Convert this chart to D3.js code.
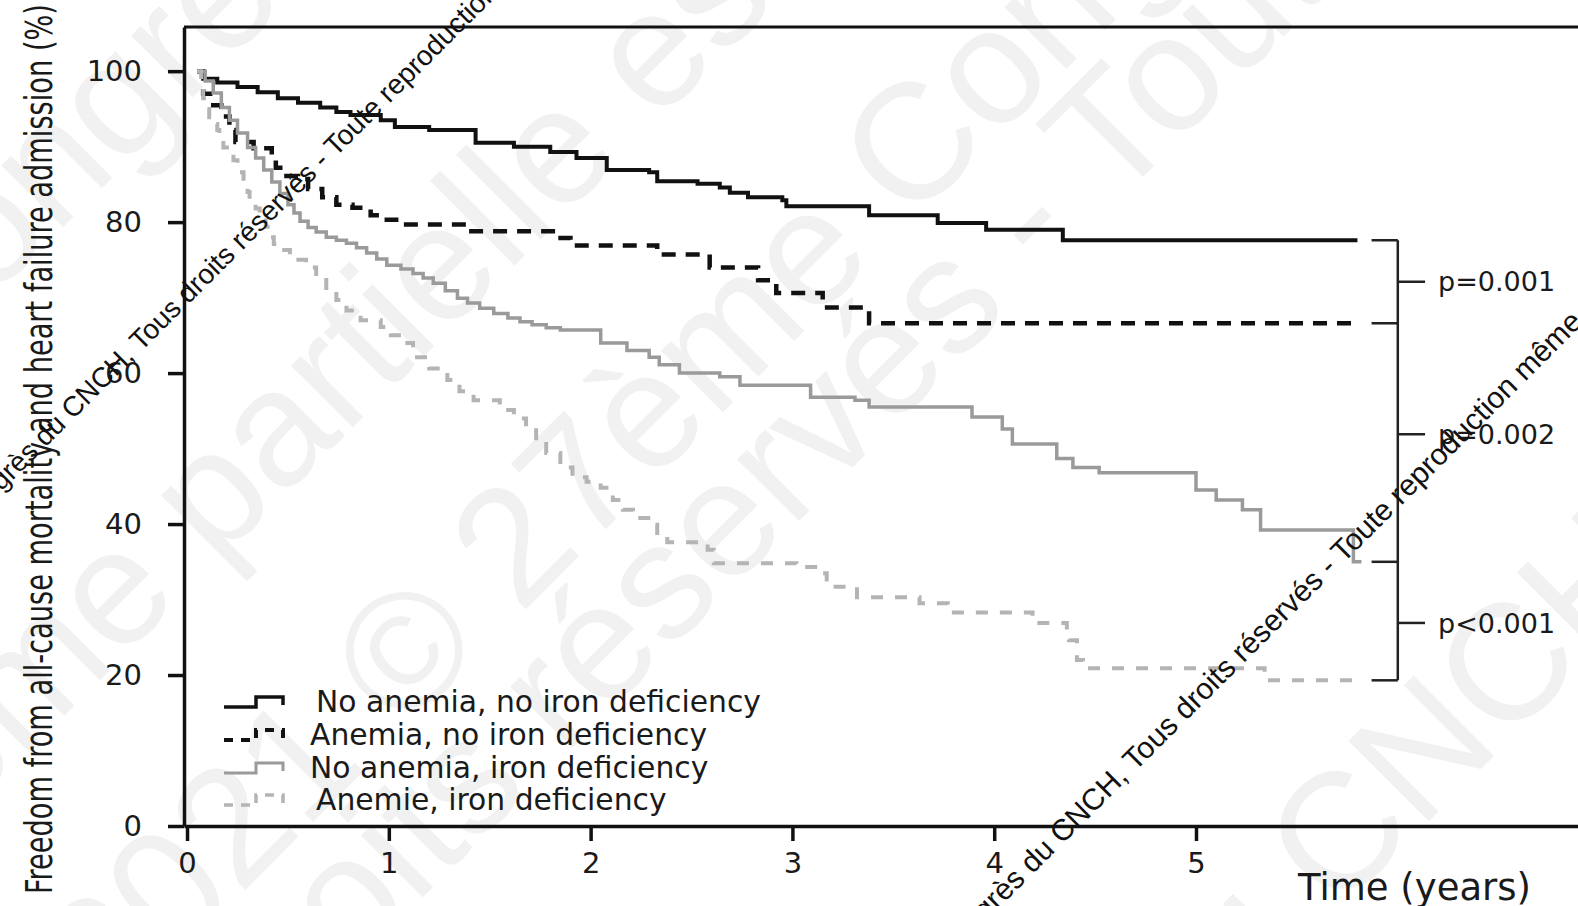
<!DOCTYPE html>
<html>
<head>
<meta charset="utf-8">
<script src="https://cdn.jsdelivr.net/npm/d3@7"></script>
<style>
  html, body { margin: 0; padding: 0; background: #fff; }
  svg { display: block; }
</style>
</head>
<body>
<svg id="chart" width="1578" height="906"></svg>
<script>
// Kaplan-Meier estimates: [time in years, freedom from event (%)]
const noAnemiaNoID = [[0.05,100],[0.08,99.0],[0.15,98.5],[0.25,97.9],[0.35,97.2],[0.45,96.4],[0.55,95.8],[0.66,95.2],[0.74,94.6],[0.81,94.2],[0.96,93.5],[1.03,92.6],[1.20,92.2],[1.43,90.5],[1.62,90.0],[1.80,89.3],[1.93,88.5],[2.08,86.9],[2.29,86.6],[2.33,85.4],[2.53,85.1],[2.64,84.6],[2.69,83.9],[2.78,83.3],[2.95,82.9],[2.97,82.1],[3.38,80.9],[3.72,79.9],[3.96,79.0],[4.34,77.6],[5.80,77.6]];
const anemiaNoID = [[0.05,100],[0.08,97.0],[0.13,95.5],[0.17,94.0],[0.21,92.2],[0.24,90.6],[0.33,89.8],[0.42,88.5],[0.44,87.2],[0.48,86.1],[0.55,85.7],[0.60,84.4],[0.67,83.3],[0.74,82.3],[0.82,81.9],[0.91,80.9],[0.99,80.3],[1.05,79.7],[1.39,78.8],[1.83,77.9],[1.90,76.9],[2.33,75.7],[2.59,74.0],[2.83,72.3],[2.92,70.6],[3.15,68.7],[3.38,66.6],[5.80,66.6]];
const noAnemiaID = [[0.05,100],[0.09,98.7],[0.13,97.1],[0.17,95.2],[0.21,93.5],[0.25,91.8],[0.30,89.9],[0.34,88.5],[0.38,86.9],[0.42,85.3],[0.46,83.8],[0.50,82.3],[0.53,81.2],[0.56,80.1],[0.60,79.3],[0.64,78.7],[0.69,78.0],[0.74,77.6],[0.79,77.2],[0.84,76.6],[0.89,75.9],[0.94,75.1],[0.99,74.3],[1.06,73.8],[1.12,73.2],[1.17,72.6],[1.22,71.9],[1.28,70.9],[1.34,69.9],[1.39,69.3],[1.45,68.6],[1.52,67.9],[1.59,67.3],[1.65,66.8],[1.71,66.4],[1.78,66.0],[1.85,65.7],[2.05,64.0],[2.18,63.0],[2.29,62.1],[2.34,61.1],[2.44,60.0],[2.64,59.5],[2.74,58.4],[3.09,56.8],[3.31,56.4],[3.38,55.5],[3.89,54.2],[4.04,52.6],[4.09,50.6],[4.31,48.7],[4.39,47.5],[4.52,46.8],[5.00,44.5],[5.10,43.2],[5.23,41.9],[5.32,39.2],[5.78,35.0],[5.82,35.0]];
const anemiaID = [[0.05,100],[0.07,98.0],[0.08,96.4],[0.10,95.0],[0.11,93.9],[0.13,93.0],[0.15,92.2],[0.16,91.0],[0.18,89.9],[0.21,89.0],[0.23,88.2],[0.25,86.6],[0.28,85.2],[0.30,84.0],[0.31,82.9],[0.34,81.8],[0.36,80.7],[0.39,79.4],[0.41,78.0],[0.43,77.1],[0.45,76.3],[0.51,75.0],[0.59,74.0],[0.64,72.7],[0.69,71.0],[0.74,69.7],[0.79,68.3],[0.86,67.0],[0.96,66.1],[1.01,65.0],[1.06,64.0],[1.12,62.1],[1.20,60.6],[1.29,59.1],[1.35,57.6],[1.42,56.4],[1.55,55.1],[1.62,54.0],[1.68,52.8],[1.73,51.1],[1.78,49.4],[1.85,47.5],[1.91,46.2],[1.98,45.6],[2.05,44.8],[2.11,43.2],[2.16,41.9],[2.21,40.8],[2.31,39.9],[2.33,38.3],[2.38,37.6],[2.58,36.6],[2.61,34.8],[3.02,34.3],[3.14,33.5],[3.17,31.7],[3.32,30.3],[3.63,29.5],[3.77,28.3],[4.19,26.9],[4.36,26.0],[4.37,24.6],[4.41,22.0],[4.44,20.9],[5.34,19.3],[5.82,19.3]];

const seriesNames = ["No anemia, no iron deficiency", "Anemia, no iron deficiency", "No anemia, iron deficiency", "Anemie, iron deficiency"];
const seriesData = [noAnemiaNoID, anemiaNoID, noAnemiaID, anemiaID];

const xTicks = [0, 1, 2, 3, 4, 5];
const yTicks = [0, 20, 40, 60, 80, 100];

// log-rank comparisons between neighbouring curves
const pLabels = ["p=0.001", "p=0.002", "p<0.001"];
const pLevels = [72.1, 51.9, 26.9];

const xTitle = "Time (years)";
const yTitle = "Freedom from all-cause mortality and heart failure admission (%)";
const notice = ["27ème Congrès du CNCH,\u00a0", "Tous droits réservés - Toute reproduction même partielle est interdite"];

// ---- drawing ----
const svg = d3.select("#chart");
const W = 1578, H = 906;
const plotLeft = 184, plotTop = 27, plotBottom = 826;

const x = d3.scaleLinear().domain([-0.015, 6.893]).range([plotLeft, W]);
const y = d3.scaleLinear().domain([0, 105.85]).range([plotBottom, plotTop]);

const styles = [
  { stroke: "#111", width: 4, dash: null },
  { stroke: "#111", width: 4.5, dash: "14 10" },
  { stroke: "#9a9a9a", width: 3.5, dash: null },
  { stroke: "#b4b4b4", width: 4, dash: "12 12" }
];

// faint background notice
const faint = svg.append("g").attr("fill", "#f1f1f1")
  .style("font-family", "'Liberation Sans', Arial, sans-serif").style("font-size", "165px");
const faintLines = [
  ["Congrès du CNCH, Tous droits réservés - Toute reproduction même\u00a0", "partielle est interdite", 215, 565],
  ["2021 ©\u00a0", "27ème Congrès du CNCH", 520, 615],
  ["du CNCH, Tous dro", "its réservés - Toute reproduction", 415, 905],
  ["27ème Congrès du\u00a0", "CNCH, Tous droits", 1335, 915],
  ["2021 © 27ème C", "ongrès du CNCH", -10, 300]
];
faintLines.forEach(([pre, post, px, py]) => {
  const g = faint.append("g").attr("transform", `translate(${px},${py}) rotate(-45)`);
  g.append("text").attr("text-anchor", "end").text(pre);
  g.append("text").attr("text-anchor", "start").text(post);
});

const font = "'DejaVu Sans', Verdana, sans-serif";

// axes
const yAxis = d3.axisLeft(y).tickValues(yTicks).tickSize(16).tickSizeOuter(0).tickPadding(26).tickFormat(d3.format("d"));
const gy = svg.append("g").attr("transform", `translate(${plotLeft},0)`).call(yAxis);
const xAxis = d3.axisBottom(x).tickValues(xTicks).tickSize(15).tickSizeOuter(0).tickPadding(11).tickFormat(d3.format("d"));
const gx = svg.append("g").attr("transform", `translate(0,${plotBottom})`).call(xAxis);
[gx, gy].forEach(g => {
  g.selectAll("path.domain").attr("stroke", "#111").attr("stroke-width", 3.5);
  g.selectAll(".tick line").attr("stroke", "#111").attr("stroke-width", 3.5);
  g.selectAll(".tick text").attr("fill", "#1a1a1a").style("font-family", font).style("font-size", "29px");
});
// top frame edge
svg.append("line").attr("x1", plotLeft).attr("x2", W).attr("y1", y(105.85)).attr("y2", y(105.85))
  .attr("stroke", "#111").attr("stroke-width", 3);

// curves
const line = d3.line().x(d => x(d[0])).y(d => y(d[1])).curve(d3.curveStepAfter);
seriesData.forEach((data, i) => {
  svg.append("path").datum(data).attr("d", line).attr("fill", "none")
    .attr("stroke", styles[i].stroke).attr("stroke-width", styles[i].width)
    .attr("stroke-dasharray", styles[i].dash);
});

// bracket joining the curve ends
const bx0 = x(5.87), bx1 = x(6.0), bx2 = x(6.135);
const ends = seriesData.map(d => d[d.length - 1][1]);
const br = svg.append("g").attr("stroke", "#222").attr("stroke-width", 2.5);
br.append("line").attr("x1", bx1).attr("x2", bx1).attr("y1", y(d3.max(ends))).attr("y2", y(d3.min(ends)));
ends.forEach(v => br.append("line").attr("x1", bx0).attr("x2", bx1).attr("y1", y(v)).attr("y2", y(v)));
pLevels.forEach((v, i) => {
  br.append("line").attr("x1", bx1).attr("x2", bx2).attr("y1", y(v)).attr("y2", y(v));
  svg.append("text").attr("x", bx2 + 13).attr("y", y(v)).attr("dy", "0.36em")
    .attr("fill", "#1a1a1a").style("font-family", font).style("font-size", "27px").text(pLabels[i]);
});

// legend
const legendRows = [701, 734, 767, 799];
seriesNames.forEach((name, i) => {
  const ly = legendRows[i];
  svg.append("path")
    .attr("d", `M224,${ly + 6}H256V${ly - 4}H283V${ly + 4}`)
    .attr("fill", "none").attr("stroke", styles[i].stroke).attr("stroke-width", styles[i].width - 0.5)
    .attr("stroke-dasharray", styles[i].dash ? "9 8" : null);
  svg.append("text").attr("x", (i === 0 || i === 3) ? 316 : 310).attr("y", ly).attr("dy", "0.36em")
    .attr("fill", "#1a1a1a").style("font-family", font).style("font-size", "29.8px").text(name);
});

// axis titles
svg.append("text").attr("x", 1298).attr("y", 900).attr("fill", "#1a1a1a")
  .style("font-family", font).style("font-size", "37px").text(xTitle);
svg.append("text").attr("transform", `translate(52,449) rotate(-90)`).attr("text-anchor", "middle")
  .attr("textLength", 890).attr("lengthAdjust", "spacingAndGlyphs")
  .attr("fill", "#1a1a1a").style("font-family", "'DejaVu Sans Condensed', 'Liberation Sans Narrow', sans-serif")
  .style("font-size", "37px").text(yTitle);

// overlaid copyright notice
[[141, 352, 28], [1135, 772, 30]].forEach(([px, py, fs]) => {
  const g = svg.append("g").attr("transform", `translate(${px},${py}) rotate(-45)`)
    .attr("fill", "#111").style("font-family", "'Liberation Sans', Arial, sans-serif").style("font-size", fs + "px");
  g.append("text").attr("text-anchor", "end").text(notice[0]);
  g.append("text").attr("text-anchor", "start").text(notice[1]);
});
</script>
</body>
</html>
